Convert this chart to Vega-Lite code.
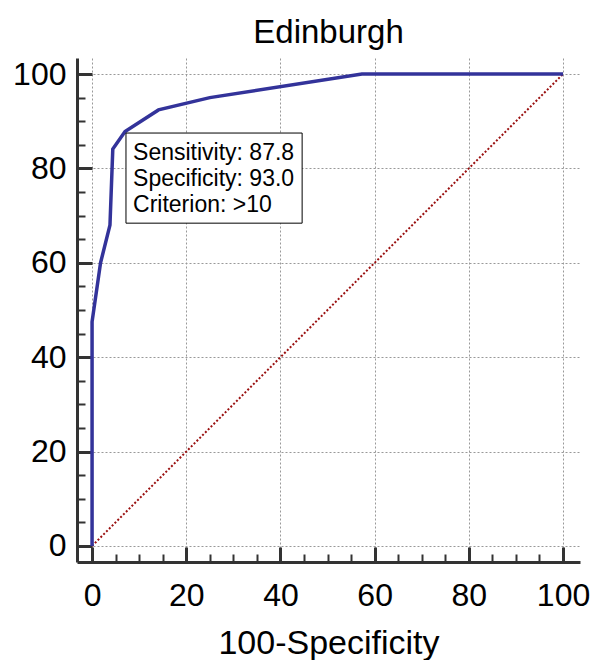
{
  "$schema": "https://vega.github.io/schema/vega-lite/v6.json",
  "width": 503,
  "height": 504,
  "autosize": {"type": "none"},
  "padding": {"left": 77, "top": 58, "right": 15, "bottom": 98},
  "background": "white",
  "title": {"text": "Edinburgh", "fontSize": 33, "font": "Liberation Sans", "fontWeight": "normal", "color": "black", "offset": 14, "baseline": "alphabetic", "dy": 32},
  "config": {"view": {"stroke": null}, "axis": {"labelFont": "Liberation Sans", "titleFont": "Liberation Sans"}},
  "datasets": {
    "roc": [
      {"fpr": 0, "tpr": 0},
      {"fpr": 0, "tpr": 47.5},
      {"fpr": 1.8, "tpr": 60},
      {"fpr": 3.8, "tpr": 68},
      {"fpr": 4.4, "tpr": 84.1},
      {"fpr": 7.0, "tpr": 87.8},
      {"fpr": 14.1, "tpr": 92.4},
      {"fpr": 25, "tpr": 95},
      {"fpr": 57.3, "tpr": 100},
      {"fpr": 100, "tpr": 100}
    ],
    "diag": [{"fpr": 0, "tpr": 0}, {"fpr": 100, "tpr": 100}],
    "box": [{"x1": 7.2, "x2": 44.6, "y1": 87.5, "y2": 68.4}],
    "info": [
      {"label": "Sensitivity: 87.8", "x": 8.7, "y": 81.8},
      {"label": "Specificity: 93.0", "x": 8.7, "y": 76.2},
      {"label": "Criterion: >10", "x": 8.7, "y": 70.7}
    ]
  },
  "layer": [
    {
      "data": {"name": "diag"},
      "mark": {"type": "line", "color": "#9a1010", "strokeWidth": 2, "strokeDash": [2, 2]},
      "encoding": {
        "x": {"field": "fpr", "type": "quantitative",
          "scale": {"domain": [-3.2, 103.6], "nice": false, "zero": false},
          "axis": {"orient": "bottom", "values": [0, 20, 40, 60, 80, 100], "tickSize": -15, "tickWidth": 3, "tickColor": "#333333",
            "domainColor": "#333333", "domainWidth": 3, "grid": true, "gridColor": "#999999", "gridDash": [2, 2], "gridWidth": 1,
            "labelFontSize": 32, "labelColor": "black", "labelPadding": 33, "labelFlush": false, "labelOverlap": false,
            "title": "100-Specificity", "titleFontSize": 34, "titleFontWeight": "normal", "titleColor": "black", "titlePadding": 15}},
        "y": {"field": "tpr", "type": "quantitative",
          "scale": {"domain": [-3.4, 103.4], "nice": false, "zero": false},
          "axis": {"orient": "left", "values": [0, 20, 40, 60, 80, 100], "tickSize": -15, "tickWidth": 3, "tickColor": "#333333",
            "domainColor": "#333333", "domainWidth": 3, "grid": true, "gridColor": "#999999", "gridDash": [2, 2], "gridWidth": 1,
            "labelFontSize": 32, "labelColor": "black", "labelPadding": 26, "labelFlush": false, "labelOverlap": false,
            "title": null}}
      }
    },
    {
      "data": {"name": "roc"},
      "mark": {"type": "line", "color": "#33339a", "strokeWidth": 3.5},
      "encoding": {
        "x": {"field": "fpr", "type": "quantitative",
          "scale": {"domain": [-3.2, 103.6], "nice": false, "zero": false},
          "axis": {"orient": "bottom", "values": [5, 10, 15, 25, 30, 35, 45, 50, 55, 65, 70, 75, 85, 90, 95], "tickSize": -8, "tickWidth": 2,
            "tickColor": "#333333", "domain": false, "labels": false, "grid": false, "title": null}},
        "y": {"field": "tpr", "type": "quantitative",
          "scale": {"domain": [-3.4, 103.4], "nice": false, "zero": false},
          "axis": {"orient": "left", "values": [5, 10, 15, 25, 30, 35, 45, 50, 55, 65, 70, 75, 85, 90, 95], "tickSize": -8, "tickWidth": 2,
            "tickColor": "#333333", "domain": false, "labels": false, "grid": false, "title": null}},
        "order": {"value": null}
      }
    },
    {
      "data": {"name": "box"},
      "mark": {"type": "rect", "fill": "white", "stroke": "black", "strokeWidth": 1},
      "encoding": {
        "x": {"field": "x1", "type": "quantitative", "axis": null},
        "x2": {"field": "x2"},
        "y": {"field": "y1", "type": "quantitative", "axis": null},
        "y2": {"field": "y2"}
      }
    },
    {
      "data": {"name": "info"},
      "mark": {"type": "text", "align": "left", "baseline": "alphabetic", "font": "Liberation Sans", "fontSize": 23, "color": "black"},
      "encoding": {
        "x": {"field": "x", "type": "quantitative", "axis": null},
        "y": {"field": "y", "type": "quantitative", "axis": null},
        "text": {"field": "label"}
      }
    }
  ],
  "resolve": {"axis": {"x": "independent", "y": "independent"}}
}
